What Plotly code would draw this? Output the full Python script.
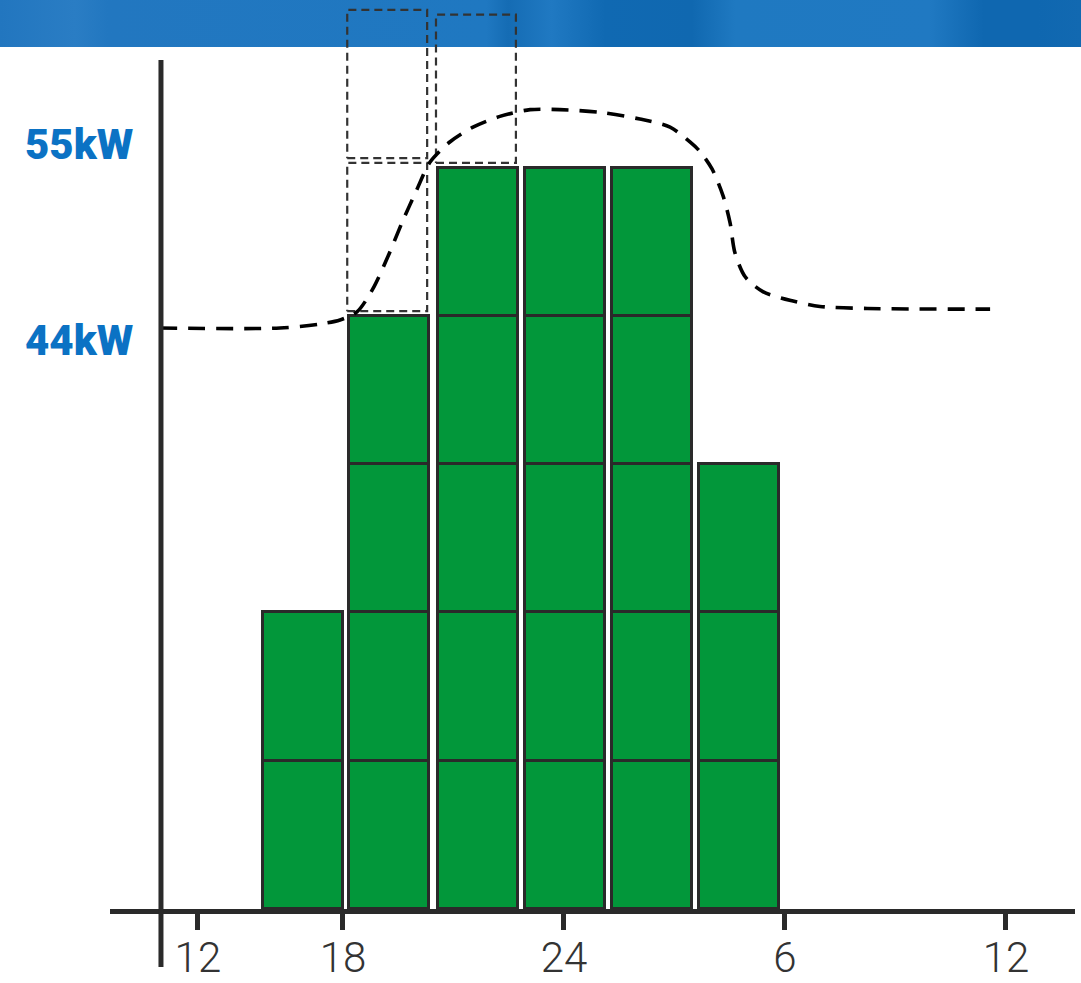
import base64
import plotly.graph_objects as go

# ---- data -------------------------------------------------------------
# x axis: hours counted from noon (12 -> 24 -> 12 next day)
tick_pos = [2.06, 6.0, 12.0, 18.0, 24.0]
tick_text = ["12", "18", "24", "6", "12"]

# charging sessions: centre hour of each column, stacked 11 kW blocks
bar_hours = [4.91, 7.25, 9.66, 12.03, 14.39, 16.75]
bar_blocks = [2, 4, 5, 5, 5, 3]          # blocks actually delivered
extra_blocks = [0, 2, 1, 0, 0, 0]        # blocks that would exceed the limit
block_kw = 11.0
bar_width_h = 2.17

# site load profile (kW) over the same hours
load_hours = [1.03, 4.29, 5.38, 5.92, 6.38, 6.81, 7.22, 7.60, 8.01, 8.36,
              8.90, 9.53, 10.26, 11.08, 11.89, 12.98, 14.06, 14.88, 15.42,
              15.69, 16.02, 16.32, 16.51, 16.64, 16.92, 17.40, 18.22, 18.95,
              20.23, 23.57]
load_kw = [43.1, 43.1, 43.4, 43.7, 44.3, 46.0, 48.4, 50.9, 53.4, 55.4,
           56.9, 58.0, 58.8, 59.3, 59.3, 59.1, 58.6, 58.0, 56.9,
           56.2, 54.9, 52.9, 50.9, 48.7, 46.9, 45.8, 45.1, 44.7,
           44.55, 44.5]

# reference levels shown at the left
level_kw = [55, 44]
level_text = ["55kW", "44kW"]
level_shift = [23, -25]

# ---- styling ------------------------------------------------------------
GREEN = "#02973a"
EDGE = "#2a2a2a"
BLUE = "#0b72c4"

fig = go.Figure()

# stacked blocks, one trace per stacking level
for lvl in range(max(bar_blocks)):
    xs = [h for h, n in zip(bar_hours, bar_blocks) if n > lvl]
    fig.add_trace(go.Bar(
        x=xs, y=[block_kw] * len(xs), width=bar_width_h,
        marker=dict(color=GREEN, line=dict(color=EDGE, width=3)),
        showlegend=False, hoverinfo="skip",
    ))

# dashed outlines for blocks above the limit (drawn slightly apart)
gap_kw = 0.35
bx, by = [], []
for h, n, d in zip(bar_hours, bar_blocks, extra_blocks):
    for j in range(d):
        y0 = n * block_kw + gap_kw + j * (block_kw + gap_kw)
        y1 = y0 + block_kw
        x0 = h - bar_width_h / 2 - 0.05
        x1 = h + bar_width_h / 2 - 0.05
        bx += [x0, x1, x1, x0, x0, None]
        by += [y0, y0, y1, y1, y0, None]
fig.add_trace(go.Scatter(
    x=bx, y=by, mode="lines",
    line=dict(color="#333333", width=2.2, dash="8px,5px"),
    showlegend=False, hoverinfo="skip",
))

# load profile
fig.add_trace(go.Scatter(
    x=load_hours, y=load_kw, mode="lines",
    line=dict(color="#000000", width=3.6, dash="17px,11px", shape="spline", smoothing=0.8),
    showlegend=False, hoverinfo="skip",
))

# level labels
for v, t, s in zip(level_kw, level_text, level_shift):
    fig.add_annotation(
        x=0, xref="paper", xanchor="right", xshift=25,
        y=v, yref="y", yshift=s, yanchor="middle",
        text=t, showarrow=False,
        font=dict(family="Roboto", size=42, color=BLUE, weight=900),
    )

# header band
svg = (
    '<svg xmlns="http://www.w3.org/2000/svg" width="1081" height="47" preserveAspectRatio="none">'
    '<defs><linearGradient id="g" x1="0" x2="1" y1="0" y2="0">'
    '<stop offset="0" stop-color="#2276bf"/>'
    '<stop offset="0.07" stop-color="#2a7dc4"/>'
    '<stop offset="0.10" stop-color="#2277c0"/>'
    '<stop offset="0.45" stop-color="#1f78c1"/>'
    '<stop offset="0.47" stop-color="#156cb4"/>'
    '<stop offset="0.51" stop-color="#2079c2"/>'
    '<stop offset="0.56" stop-color="#1069b2"/>'
    '<stop offset="0.64" stop-color="#1068b0"/>'
    '<stop offset="0.68" stop-color="#1f79c1"/>'
    '<stop offset="0.86" stop-color="#2079c2"/>'
    '<stop offset="0.91" stop-color="#0f67b0"/>'
    '<stop offset="0.96" stop-color="#0f67b0"/>'
    '<stop offset="1" stop-color="#1269b1"/>'
    '</linearGradient></defs>'
    '<rect width="1081" height="47" fill="url(#g)"/></svg>'
)
band_src = "data:image/svg+xml;base64," + base64.b64encode(svg.encode()).decode()

W, H = 1081, 983
ML, MR, MT, MB = 110, 6, 0, 74
pw, ph = W - ML - MR, H - MT - MB

fig.add_layout_image(
    source=band_src, xref="paper", yref="paper",
    x=-ML / pw, y=1, sizex=W / pw, sizey=47 / ph,
    xanchor="left", yanchor="top", sizing="stretch", layer="below",
)

# vertical axis line (extends past the time axis)
y_axis_h = 1.058
fig.add_shape(type="line", xref="x", yref="paper",
              x0=y_axis_h, x1=y_axis_h, y0=-58 / ph, y1=(ph - 60) / ph,
              line=dict(color=EDGE, width=5))

px_per_kw = 13.48
fig.update_layout(
    width=W, height=H,
    margin=dict(l=ML, r=MR, t=MT, b=MB, autoexpand=False),
    paper_bgcolor="white", plot_bgcolor="rgba(0,0,0,0)",
    barmode="stack", bargap=0,
    xaxis=dict(
        range=[-0.326, 25.875], tickmode="array", tickvals=tick_pos, ticktext=tick_text,
        showline=True, linecolor=EDGE, linewidth=5,
        ticks="outside", ticklen=16, tickwidth=5, tickcolor=EDGE,
        showgrid=False, zeroline=False, automargin=False,
        tickfont=dict(family="Roboto", size=42, color="#333333", weight=300),
        ticklabelstandoff=-8,
    ),
    yaxis=dict(range=[0, ph / px_per_kw], visible=False, showgrid=False,
               zeroline=False, automargin=False),
)

fig.write_html("out.html")
